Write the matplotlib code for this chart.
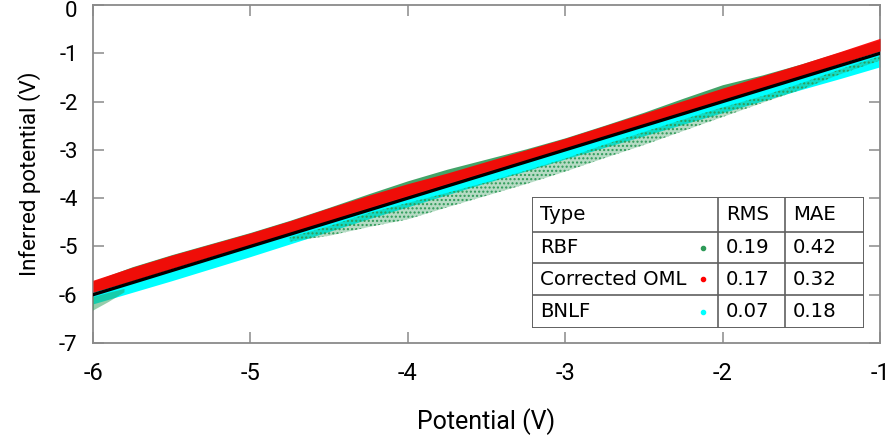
"""Inferred vs applied potential for three inference methods, with error table."""

import matplotlib.pyplot as plt
import matplotlib.transforms as mtransforms
import numpy as np
from matplotlib.patches import Rectangle

# Knot positions along the potential axis (V)
KNOT_X = [-6.0, -5.75, -5.5, -5.25, -5.0, -4.75, -4.5, -4.25, -4.0, -3.75, -3.5,
          -3.25, -3.0, -2.75, -2.5, -2.25, -2.0, -1.75, -1.5, -1.25, -1.0]

# Residual envelopes (inferred - true, V)
OML_LOW = [0.05, 0.04, 0.04, 0.04, 0.03, 0.03, 0.03, 0.03, 0.03, 0.03, 0.02,
           0.02, 0.02, 0.02, 0.02, 0.02, 0.03, 0.03, 0.03, 0.04, 0.05]
OML_HIGH = [0.30, 0.32, 0.32, 0.30, 0.28, 0.28, 0.30, 0.31, 0.30, 0.27, 0.26,
            0.25, 0.24, 0.25, 0.26, 0.27, 0.28, 0.28, 0.28, 0.29, 0.31]

BNLF_LOW = [-0.19, -0.20, -0.21, -0.21, -0.21, -0.20, -0.19, -0.18, -0.18, -0.18,
            -0.18, -0.19, -0.19, -0.20, -0.21, -0.22, -0.23, -0.24, -0.25, -0.27, -0.28]
BNLF_HIGH = [0.08, 0.03, 0.02, 0.02, 0.02, 0.02, 0.02, 0.02, 0.02, 0.02, 0.02,
             0.02, 0.02, 0.02, 0.03, 0.03, 0.04, 0.05, 0.04, 0.03, 0.02]

RBF_UP_LOW = [0.02, 0.04, 0.05, 0.05, 0.05, 0.05, 0.05, 0.06, 0.06, 0.06, 0.06,
              0.05, 0.05, 0.05, 0.05, 0.05, 0.05, 0.05, 0.05, 0.05, 0.05]
RBF_UP_HIGH = [0.28, 0.33, 0.33, 0.31, 0.29, 0.29, 0.31, 0.34, 0.36, 0.35, 0.31,
               0.27, 0.25, 0.26, 0.28, 0.32, 0.35, 0.30, 0.28, 0.28, 0.28]

RBF_DOWN_X = [-4.75, -4.5, -4.25, -4.0, -3.75, -3.5, -3.25, -3.0, -2.75, -2.5,
              -2.25, -2.0, -1.75, -1.5, -1.25, -1.0]
RBF_DOWN_LOW = [-0.15, -0.28, -0.35, -0.44, -0.44, -0.45, -0.46, -0.45, -0.42,
                -0.40, -0.36, -0.32, -0.28, -0.25, -0.18, -0.15]
RBF_DOWN_HIGH = [-0.06, -0.08, -0.06, -0.10, -0.14, -0.17, -0.18, -0.18, -0.14,
                 -0.13, -0.12, -0.12, -0.14, -0.12, -0.08, -0.06]

RBF_EDGE_X = [-6.0, -5.9, -5.8]
RBF_EDGE_LOW = [-0.33, -0.25, -0.15]
RBF_EDGE_HIGH = [-0.05, -0.06, -0.08]

LINE_X = [-6.0, -1.0]

TYPES = ["RBF", "Corrected OML", "BNLF"]
RMS = ["0.19", "0.17", "0.07"]
MAE = ["0.42", "0.32", "0.18"]

GREEN = "#2e9a58"
RED = "#ff0000"
CYAN = "#00ffff"

plt.rcParams["font.family"] = ["Roboto", "DejaVu Sans"]

fig = plt.figure(figsize=(8.91, 4.40), dpi=100)
ax = fig.add_axes([93 / 891, 97 / 440, 787 / 891, 338 / 440])


def band(x, low, high, **kw):
    x = np.asarray(x)
    ax.fill_between(x, x + np.asarray(low), x + np.asarray(high), linewidth=0, **kw)


band(KNOT_X, RBF_UP_LOW, RBF_UP_HIGH, color=GREEN, alpha=0.9, zorder=1)
band(KNOT_X, BNLF_LOW, BNLF_HIGH, color=CYAN, zorder=2)
band(KNOT_X, OML_LOW, OML_HIGH, color=RED, alpha=0.92, zorder=3)
band(RBF_DOWN_X, RBF_DOWN_LOW, RBF_DOWN_HIGH, facecolor=GREEN, alpha=0.35, zorder=4)
band(RBF_DOWN_X, RBF_DOWN_LOW, RBF_DOWN_HIGH, facecolor="none", edgecolor=GREEN,
     hatch="....", zorder=4)
band(RBF_EDGE_X, RBF_EDGE_LOW, RBF_EDGE_HIGH, facecolor=GREEN, alpha=0.5, zorder=4)

ax.plot(LINE_X, LINE_X, color="black", linewidth=2.4, zorder=6)

ax.set_xlim(-6, -1)
ax.set_ylim(-7, 0)
ax.set_xticks(np.arange(-6, -0.5, 1))
ax.set_yticks(np.arange(-7, 0.5, 1))
ax.set_xticklabels([f"{v:d}" for v in range(-6, 0)])
ax.set_yticklabels([f"{v:d}" for v in range(-7, 1)])
for spine in ax.spines.values():
    spine.set_color("#8a8a8a")
    spine.set_linewidth(1.3)
ax.tick_params(direction="in", length=8, width=1.1, color="#8a8a8a",
               top=True, right=True)
ax.tick_params(axis="x", labelsize=17, pad=14)
ax.tick_params(axis="y", labelsize=16, pad=11)
ax.set_xlabel("Potential (V)", fontsize=18, labelpad=16)
ax.set_ylabel("Inferred potential (V)", fontsize=16, labelpad=13)

# top "0" label sits a few pixels low so it stays inside the figure
top_label = ax.get_yticklabels()[-1]
top_label.set_transform(top_label.get_transform()
                        + mtransforms.ScaledTranslation(0, -4 / 100, fig.dpi_scale_trans))

# error table drawn in pixel units
tab = fig.add_axes([532 / 891, 112 / 440, 332 / 891, 131 / 440])
tab.set_xlim(0, 332)
tab.set_ylim(131, 0)
tab.axis("off")
edge = "#606060"
tab.add_patch(Rectangle((0, 0), 332, 131, facecolor="white", edgecolor=edge,
                        linewidth=1.4))
for yy in (35, 66, 98):
    tab.plot([0, 332], [yy, yy], color=edge, linewidth=1.2)
for xx in (186, 253):
    tab.plot([xx, xx], [0, 131], color=edge, linewidth=1.2)

row_mid = [17.5, 50.5, 82, 114.5]
tfont = dict(family="DejaVu Sans", fontsize=14.2, va="center", ha="left")
tab.text(8, row_mid[0], "Type", **tfont)
tab.text(194, row_mid[0], "RMS", **tfont)
tab.text(261, row_mid[0], "MAE", **tfont)
for ym, name, rms, mae, col in zip(row_mid[1:], TYPES, RMS, MAE, [GREEN, RED, CYAN]):
    tab.text(8, ym, name, **tfont)
    tab.text(194, ym, rms, **tfont)
    tab.text(261, ym, mae, **tfont)
    tab.plot([171], [ym], "o", color=col, markersize=3)

fig.savefig("out.png", dpi=100)
